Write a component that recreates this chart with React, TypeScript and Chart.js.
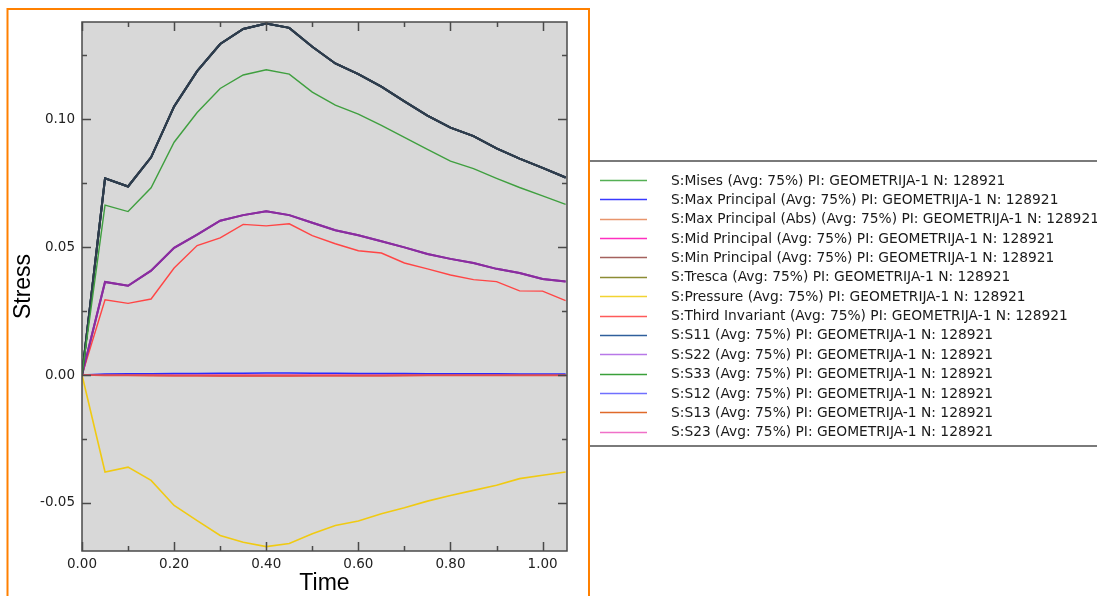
import React, { useEffect, useRef } from 'react';
import { Chart, registerables } from 'chart.js';

Chart.register(...registerables);

// ---------- data ----------
const TIME = [0, 0.05, 0.1, 0.15, 0.2, 0.25, 0.3, 0.35, 0.4, 0.45, 0.5, 0.55, 0.6, 0.65, 0.7, 0.75, 0.8, 0.85, 0.9, 0.95, 1.0, 1.05];

const MAX_PRINCIPAL = [0, 0.0769, 0.0737, 0.0851, 0.1050, 0.1188, 0.1294, 0.1353, 0.1374, 0.1357, 0.1283, 0.1218, 0.1176, 0.1127, 0.1070, 0.1014, 0.0967, 0.0934, 0.0886, 0.0846, 0.0810, 0.0772];
const MISES = [0, 0.0664, 0.0639, 0.0732, 0.0910, 0.1026, 0.1120, 0.1173, 0.1193, 0.1176, 0.1106, 0.1055, 0.1020, 0.0976, 0.0929, 0.0882, 0.0836, 0.0807, 0.0769, 0.0733, 0.0700, 0.0667];
const MID_PRINCIPAL = [0, 0.0364, 0.0349, 0.0408, 0.0497, 0.0549, 0.0603, 0.0625, 0.0640, 0.0625, 0.0595, 0.0566, 0.0546, 0.0523, 0.0499, 0.0473, 0.0454, 0.0438, 0.0415, 0.0399, 0.0375, 0.0366];
const THIRD_INVARIANT = [0, 0.0294, 0.0280, 0.0297, 0.0418, 0.0506, 0.0536, 0.0589, 0.0583, 0.0591, 0.0545, 0.0513, 0.0486, 0.0477, 0.0438, 0.0415, 0.0391, 0.0373, 0.0365, 0.0329, 0.0328, 0.0291];
const PRESSURE = [0, -0.0379, -0.0360, -0.0412, -0.0510, -0.0569, -0.0627, -0.0654, -0.0671, -0.0659, -0.0621, -0.0588, -0.0571, -0.0542, -0.0519, -0.0493, -0.0471, -0.0451, -0.0431, -0.0405, -0.0392, -0.0379];
const MIN_PRINCIPAL = [0, -0.0001, -0.0001, -0.0001, -0.0002, -0.0002, -0.0002, -0.0002, -0.0002, -0.0002, -0.0002, -0.0002, -0.0002, -0.0002, -0.0001, -0.0001, -0.0001, -0.0001, -0.0001, -0.0001, -0.0001, -0.0001];
const S12 = [0, 0.0004, 0.0005, 0.0005, 0.0006, 0.0006, 0.0007, 0.0007, 0.0008, 0.0008, 0.0007, 0.0007, 0.0006, 0.0006, 0.0006, 0.0005, 0.0005, 0.0005, 0.0005, 0.0004, 0.0004, 0.0004];
const S13 = [0, -0.0002, -0.0002, -0.0003, -0.0003, -0.0003, -0.0004, -0.0004, -0.0004, -0.0004, -0.0003, -0.0003, -0.0003, -0.0003, -0.0003, -0.0002, -0.0002, -0.0002, -0.0002, -0.0002, -0.0002, -0.0002];
const S23 = [0, 0.0001, 0.0001, 0.0001, 0.0001, 0.0001, 0.0001, 0.0001, 0.0001, 0.0001, 0.0001, 0.0001, 0.0001, 0.0001, 0.0001, 0.0001, 0.0001, 0.0001, 0.0001, 0.0001, 0.0001, 0.0001];

const LABELS = [
  'S:Mises (Avg: 75%) PI: GEOMETRIJA-1 N: 128921',
  'S:Max Principal (Avg: 75%) PI: GEOMETRIJA-1 N: 128921',
  'S:Max Principal (Abs) (Avg: 75%) PI: GEOMETRIJA-1 N: 128921',
  'S:Mid Principal (Avg: 75%) PI: GEOMETRIJA-1 N: 128921',
  'S:Min Principal (Avg: 75%) PI: GEOMETRIJA-1 N: 128921',
  'S:Tresca (Avg: 75%) PI: GEOMETRIJA-1 N: 128921',
  'S:Pressure (Avg: 75%) PI: GEOMETRIJA-1 N: 128921',
  'S:Third Invariant (Avg: 75%) PI: GEOMETRIJA-1 N: 128921',
  'S:S11 (Avg: 75%) PI: GEOMETRIJA-1 N: 128921',
  'S:S22 (Avg: 75%) PI: GEOMETRIJA-1 N: 128921',
  'S:S33 (Avg: 75%) PI: GEOMETRIJA-1 N: 128921',
  'S:S12 (Avg: 75%) PI: GEOMETRIJA-1 N: 128921',
  'S:S13 (Avg: 75%) PI: GEOMETRIJA-1 N: 128921',
  'S:S23 (Avg: 75%) PI: GEOMETRIJA-1 N: 128921',
];
const SERIES = [MISES, MAX_PRINCIPAL, MAX_PRINCIPAL, MID_PRINCIPAL, MIN_PRINCIPAL, MAX_PRINCIPAL, PRESSURE, THIRD_INVARIANT, MAX_PRINCIPAL, MID_PRINCIPAL, MIN_PRINCIPAL, S12, S13, S23];
const LEGEND_COLORS = ['#55b055', '#3a3aff', '#e8956c', '#ff2fc0', '#a4625e', '#8c8c34', '#f2d432', '#ff5a5a', '#2f5f9c', '#b878e8', '#3aa03a', '#7070ff', '#e06a2a', '#f070c8'];
const PLOT_COLORS = ['#3f9f3f', '#2e3d4d', '#2e3d4d', '#8a2da0', '#e05050', '#2e3d4d', '#f0ca12', '#ff4545', '#2e3d4d', '#8a2da0', '#e05050', '#2a2aff', '#e04a3a', '#ff5ac0'];
const PLOT_WIDTHS = [1.4, 2, 2, 2, 1.5, 2, 1.6, 1.4, 2, 2, 1.5, 1.5, 1.5, 1.2];

const X_MAJOR = [0, 0.2, 0.4, 0.6, 0.8, 1.0];
const X_MINOR = [0.1, 0.3, 0.5, 0.7, 0.9];
const Y_MAJOR = [-0.05, 0, 0.05, 0.1];
const Y_MINOR = [-0.025, 0.025, 0.075, 0.125];

const X_MIN = 0;
const X_MAX = 1.053;
const Y_MIN = -0.0688;
const Y_MAX = 0.138;

const frame = {
  id: 'abqFrame',
  beforeDatasetsDraw(chart: any) {
    const { ctx, chartArea: a } = chart;
    ctx.save();
    ctx.fillStyle = '#d8d8d8';
    ctx.fillRect(a.left, a.top, a.right - a.left, a.bottom - a.top);
    ctx.restore();
  },
  afterDraw(chart: any) {
    const { ctx, chartArea: a, scales } = chart;
    const xs = scales.x;
    const ys = scales.y;
    ctx.save();
    ctx.strokeStyle = '#4a4a4a';
    ctx.lineWidth = 1.5;
    ctx.strokeRect(a.left, a.top, a.right - a.left, a.bottom - a.top);
    const tick = (x1: number, y1: number, x2: number, y2: number) => {
      ctx.beginPath();
      ctx.moveTo(x1, y1);
      ctx.lineTo(x2, y2);
      ctx.stroke();
    };
    X_MAJOR.forEach((v) => {
      const p = Math.round(xs.getPixelForValue(v)) + 0.5;
      tick(p, a.bottom, p, a.bottom - 9);
      tick(p, a.top, p, a.top + 9);
    });
    X_MINOR.forEach((v) => {
      const p = Math.round(xs.getPixelForValue(v)) + 0.5;
      tick(p, a.bottom, p, a.bottom - 5);
      tick(p, a.top, p, a.top + 5);
    });
    Y_MAJOR.forEach((v) => {
      const p = Math.round(ys.getPixelForValue(v)) + 0.5;
      tick(a.left, p, a.left + 9, p);
      tick(a.right, p, a.right - 9, p);
    });
    Y_MINOR.forEach((v) => {
      const p = Math.round(ys.getPixelForValue(v)) + 0.5;
      tick(a.left, p, a.left + 5, p);
      tick(a.right, p, a.right - 5, p);
    });

    // orange frame
    ctx.strokeStyle = '#ff8000';
    ctx.lineWidth = 2;
    ctx.beginPath();
    ctx.moveTo(7.5, 600);
    ctx.lineTo(7.5, 9);
    ctx.lineTo(589, 9);
    ctx.lineTo(589, 600);
    ctx.stroke();

    // legend box lines
    ctx.strokeStyle = '#7a7a7a';
    ctx.lineWidth = 2;
    ctx.beginPath();
    ctx.moveTo(590, 161);
    ctx.lineTo(1097, 161);
    ctx.moveTo(590, 446);
    ctx.lineTo(1097, 446);
    ctx.stroke();

    // legend entries
    ctx.font = '13.8px "DejaVu Sans"';
    ctx.textBaseline = 'middle';
    ctx.textAlign = 'left';
    LABELS.forEach((label, i) => {
      const y = 180 + i * 19.36;
      ctx.strokeStyle = LEGEND_COLORS[i];
      ctx.lineWidth = 1.6;
      ctx.beginPath();
      ctx.moveTo(600, Math.round(y) + 0.5);
      ctx.lineTo(647, Math.round(y) + 0.5);
      ctx.stroke();
      ctx.fillStyle = '#1a1a1a';
      ctx.fillText(label, 671, y + 1);
    });
    ctx.restore();
  },
};

export default function App() {
  const ref = useRef<HTMLCanvasElement>(null);

  useEffect(() => {
    if (!ref.current) return;
    const datasets = LABELS.map((label, i) => ({
      label,
      data: TIME.map((t, k) => ({ x: t, y: SERIES[i][k] })),
      borderColor: PLOT_COLORS[i],
      backgroundColor: LEGEND_COLORS[i],
      borderWidth: PLOT_WIDTHS[i],
      pointRadius: 0,
      tension: 0,
      fill: false,
    }));
    const chart = new Chart(ref.current, {
      type: 'line',
      data: { datasets },
      plugins: [frame],
      options: {
        animation: false,
        responsive: false,
        layout: { padding: { left: 0, top: 22, right: 530, bottom: 0 } },
        plugins: { legend: { display: false }, tooltip: { enabled: false } },
        scales: {
          x: {
            type: 'linear',
            min: X_MIN,
            max: X_MAX,
            afterFit: (s: any) => { s.height = 45; },
            grid: { display: false, drawTicks: false },
            border: { display: false },
            ticks: {
              stepSize: 0.2,
              includeBounds: false,
              padding: 5,
              color: '#222',
              font: { family: '"DejaVu Sans"', size: 13.5 },
              callback: (v: any) => Number(v).toFixed(2),
            },
            title: {
              display: true,
              text: 'Time',
              color: '#000',
              font: { family: '"Liberation Sans"', size: 23, lineHeight: 1.04 },
              padding: { top: 0, bottom: 0 },
            },
          },
          y: {
            type: 'linear',
            min: Y_MIN,
            max: Y_MAX,
            afterFit: (s: any) => { s.width = 82; },
            grid: { display: false, drawTicks: false },
            border: { display: false },
            ticks: {
              stepSize: 0.05,
              includeBounds: false,
              padding: 7,
              color: '#222',
              font: { family: '"DejaVu Sans"', size: 13.5 },
              callback: (v: any) => Number(v).toFixed(2),
            },
            title: {
              display: true,
              text: 'Stress',
              color: '#000',
              font: { family: '"Liberation Sans"', size: 23, lineHeight: 1.04 },
              padding: { top: 12, bottom: 0 },
            },
          },
        },
      },
    });
    return () => chart.destroy();
  }, []);

  return (
    <div style={{ position: 'fixed', left: 0, top: 0, width: 1097, height: 596, background: '#fff' }}>
      <canvas ref={ref} width={1097} height={596} style={{ width: 1097, height: 596, display: 'block' }} />
    </div>
  );
}
